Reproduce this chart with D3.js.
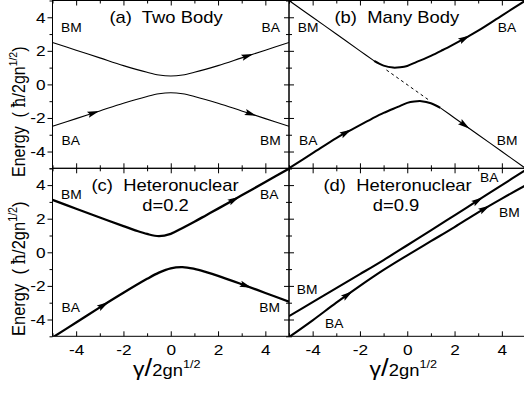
<!DOCTYPE html>
<html><head><meta charset="utf-8">
<script src="https://cdn.jsdelivr.net/npm/d3@7"></script>
<style>body{margin:0;background:#fff}svg{display:block}text{font-family:"Liberation Sans",Arial,sans-serif;fill:#000;white-space:pre}</style>
</head><body><svg id="c" width="524" height="394"></svg>
<script>
// ---- data ----
const majorTicks = [-4, -2, 0, 2, 4];
const minorTicks = [-5, -3, -1, 1, 3, 5];
const tickLabels = ["-4", "-2", "0", "2", "4"];

// (a) Two Body
const aG      = [-5, -4, -3, -2, -1, -0.5, 0, 0.5, 1, 2, 3, 4, 5];
const aUpperE = [2.5, 2.04, 1.58, 1.12, 0.72, 0.56, 0.5, 0.56, 0.72, 1.12, 1.58, 2.04, 2.5];
const aLowerE = [-2.5, -2.04, -1.58, -1.12, -0.72, -0.56, -0.5, -0.56, -0.72, -1.12, -1.58, -2.04, -2.5];

// (b) Many Body
const bUpperThinG  = [-5, -4, -3, -2, -1.4];
const bUpperThinE  = [5, 4, 3, 2, 1.4];
const bUpperThickG = [-1.4, -1, -0.6, -0.3, 0, 0.4, 1, 1.5, 2, 2.5, 3, 4, 5];
const bUpperThickE = [1.4, 1.12, 1.0, 1.02, 1.1, 1.34, 1.7, 2.05, 2.42, 2.8, 3.2, 4.1, 5.0];
const bLowerThickG = [-5, -4, -3, -2.5, -2, -1.5, -1, -0.4, 0, 0.3, 0.6, 1, 1.4];
const bLowerThickE = [-5.0, -4.1, -3.2, -2.8, -2.42, -2.05, -1.7, -1.34, -1.1, -1.02, -1.0, -1.12, -1.4];
const bLowerThinG  = [1.4, 2, 3, 4, 5];
const bLowerThinE  = [-1.4, -2, -3, -4, -5];
const bDashG = [-0.88, 0.9];
const bDashE = [0.86, -0.92];

// (c) Heteronuclear d=0.2
const cUpperG = [-5, -4, -3, -2, -1.5, -1, -0.5, 0, 0.5, 1, 1.5, 2, 3, 4, 5];
const cUpperE = [3.12, 2.59, 2.07, 1.56, 1.31, 1.09, 0.96, 1.1, 1.45, 1.82, 2.21, 2.6, 3.39, 4.19, 4.98];
const cLowerG = [-5, -4, -3, -2, -1, -0.5, 0, 0.5, 1, 1.5, 2, 3, 4, 5];
const cLowerE = [-5.07, -4.18, -3.28, -2.41, -1.58, -1.21, -0.95, -0.88, -0.99, -1.18, -1.4, -1.9, -2.42, -2.94];

// (d) Heteronuclear d=0.9
const dG      = [-5, -4, -3, -2, -1, 0, 1, 2, 3, 4, 5];
const dUpperE = [-3.8, -2.97, -2.13, -1.3, -0.46, 0.42, 1.3, 2.2, 3.1, 4.0, 4.9];
const dLowerE = [-5.05, -4.05, -3.0, -2.0, -1.05, -0.18, 0.66, 1.5, 2.38, 3.2, 3.98];

// arrow positions (gamma) per curve
const aArrows = {upper: [3.25], lower: [-3.26, 3.39]};
const bArrows = {upper: [2.43], lowerThick: [-2.58], lowerThin: [2.43]};
const cArrows = {upper: [2.68], lower: [-2.84, 3.18]};
const dArrows = {upper: [2.99], lower: [-2.52, 3.28]};

// ---- layout ----
const svg = d3.select("#c");
const SX = 1.15;
const colX = [[52.5, 289], [289, 525.5]];
const rowY = [[168.3, 0.5], [336.3, 168.3]];

function mk(col, row) {
  const x = d3.scaleLinear().domain([-5, 5]).range(colX[col]);
  const y = d3.scaleLinear().domain([-5, 5]).range(rowY[row]);
  return {x, y, col, row};
}
const P = {a: mk(0, 0), b: mk(1, 0), c: mk(0, 1), d: mk(1, 1)};

const defs = svg.append("defs");
Object.entries(P).forEach(([k, p]) => {
  defs.append("clipPath").attr("id", "clip-" + k).append("rect")
    .attr("x", p.x.range()[0]).attr("y", p.y.range()[1])
    .attr("width", p.x.range()[1] - p.x.range()[0])
    .attr("height", p.y.range()[0] - p.y.range()[1]);
});

function stretchText(sel) {
  sel.each(function () {
    const t = d3.select(this);
    const x = +t.attr("x") || 0, y = +t.attr("y") || 0;
    t.attr("transform", `translate(${x},${y}) scale(${SX},1)`).attr("x", 0).attr("y", 0);
  });
}

// axes
Object.entries(P).forEach(([k, p]) => {
  const g = svg.append("g");
  const [x0, x1] = p.x.range(), [yb, yt] = p.y.range();
  g.append("rect").attr("x", x0).attr("y", yt).attr("width", x1 - x0).attr("height", yb - yt)
    .attr("fill", "none").attr("stroke", "#000").attr("stroke-width", 1);

  const addAxis = (axisFn, scale, tx, ty, size, values, labels, pad) => {
    const ax = axisFn(scale).tickValues(values).tickSize(size).tickPadding(pad || 3)
      .tickFormat(labels ? ((d, i) => labels[i]) : () => "");
    const ag = g.append("g").attr("transform", `translate(${tx},${ty})`).call(ax);
    ag.select(".domain").remove();
    ag.selectAll("line").attr("stroke", "#000").attr("stroke-width", 1);
    return ag;
  };
  const bot = addAxis(d3.axisBottom, p.x, 0, yb, -5, majorTicks, p.row === 1 ? tickLabels : null, 8);
  addAxis(d3.axisBottom, p.x, 0, yb, -3, minorTicks, null);
  addAxis(d3.axisTop, p.x, 0, yt, -5, majorTicks, null);
  addAxis(d3.axisTop, p.x, 0, yt, -3, minorTicks, null);
  if (p.col === 0) {
    const lft = addAxis(d3.axisLeft, p.y, x0, 0, 5, majorTicks, tickLabels, 2);
    addAxis(d3.axisLeft, p.y, x0, 0, 3, minorTicks, null);
    addAxis(d3.axisRight, p.y, x1, 0, -5, majorTicks, null);
    addAxis(d3.axisRight, p.y, x1, 0, -3, minorTicks, null);
    lft.selectAll("text").attr("font-size", 15).attr("font-family", '"Liberation Sans",Arial,sans-serif').attr("fill", "#000");
    stretchText(lft.selectAll("text"));
  } else {
    addAxis(d3.axisLeft, p.y, x0, 0, -5, majorTicks, null);
    addAxis(d3.axisLeft, p.y, x0, 0, -3, minorTicks, null);
  }
  if (p.row === 1) {
    bot.selectAll("text").attr("font-size", 15).attr("font-family", '"Liberation Sans",Arial,sans-serif').attr("fill", "#000");
    stretchText(bot.selectAll("text"));
  }
});

// curves
const line = (p) => d3.line().x(d => p.x(d[0])).y(d => p.y(d[1])).curve(d3.curveCatmullRom.alpha(0.5));
function curve(k, G, E, w, dash) {
  const p = P[k];
  svg.append("path").attr("clip-path", `url(#clip-${k})`)
    .attr("d", line(p)(G.map((g, i) => [g, E[i]])))
    .attr("fill", "none").attr("stroke", "#000").attr("stroke-width", w)
    .attr("stroke-dasharray", dash || null).attr("stroke-linejoin", "round");
}
function arrows(k, G, E, at) {
  const p = P[k];
  const f = d3.scaleLinear().domain(G).range(E);
  at.forEach(g => {
    const px = p.x(g), py = p.y(f(g));
    const qx = p.x(g + 0.1), qy = p.y(f(g + 0.1));
    const ang = Math.atan2(qy - py, qx - px) * 180 / Math.PI;
    svg.append("path").attr("d", "M6,0 L-6,-3.2 L-4,0 L-6,3.2 Z")
      .attr("transform", `translate(${px},${py}) rotate(${ang})`).attr("fill", "#000");
  });
}

curve("a", aG, aUpperE, 1.1); curve("a", aG, aLowerE, 1.1);
arrows("a", aG, aUpperE, aArrows.upper); arrows("a", aG, aLowerE, aArrows.lower);

curve("b", bUpperThinG, bUpperThinE, 1.1);
curve("b", bUpperThickG, bUpperThickE, 2);
curve("b", bLowerThickG, bLowerThickE, 2);
curve("b", bLowerThinG, bLowerThinE, 1.1);
curve("b", bDashG, bDashE, 1, "3,3");
arrows("b", bUpperThickG, bUpperThickE, bArrows.upper);
arrows("b", bLowerThickG, bLowerThickE, bArrows.lowerThick);
arrows("b", bLowerThinG, bLowerThinE, bArrows.lowerThin);

curve("c", cUpperG, cUpperE, 2.3); curve("c", cLowerG, cLowerE, 2.3);
arrows("c", cUpperG, cUpperE, cArrows.upper); arrows("c", cLowerG, cLowerE, cArrows.lower);

curve("d", dG, dUpperE, 2.1); curve("d", dG, dLowerE, 2.1);
arrows("d", dG, dUpperE, dArrows.upper); arrows("d", dG, dLowerE, dArrows.lower);

// text labels
function label(x, y, txt, size, anchor) {
  svg.append("text").attr("transform", `translate(${x},${y}) scale(${SX},1)`)
    .attr("xml:space", "preserve")
    .attr("font-size", size).attr("text-anchor", anchor || "start").text(txt);
}
label(109.5, 23, "(a)  Two Body", 16);
label(334.5, 23, "(b)  Many Body", 16);
label(91.5, 191, "(c)  Heteronuclear", 16);
label(165.5, 211, "d=0.2", 16, "middle");
label(323.5, 191, "(d)  Heteronuclear", 16);
label(396, 211, "d=0.9", 16, "middle");

const state = [
  [61, 31.7, "BM"], [261.5, 31.7, "BA"], [61.5, 145, "BA"], [260, 145, "BM"],
  [297.7, 31.7, "BM"], [497.7, 31.7, "BA"], [299, 145, "BA"], [496.7, 145, "BM"],
  [61, 198.5, "BM"], [260, 199, "BA"], [61.5, 311.7, "BA"], [259.3, 311.7, "BM"],
  [480, 181.7, "BA"], [499, 216.7, "BM"], [296.7, 294, "BM"], [325, 328.3, "BA"]
];
state.forEach(s => label(s[0], s[1], s[2], 12));

// x-axis titles
[0, 1].forEach(col => {
  const cx = (colX[col][0] + colX[col][1]) / 2 - 4;
  const t = svg.append("text").attr("transform", `translate(${cx},376) scale(${SX},1)`)
    .attr("text-anchor", "middle");
  t.append("tspan").attr("font-size", 20).text("γ");
  t.append("tspan").attr("font-size", 24).text("/");
  t.append("tspan").attr("font-size", 16).text("2gn");
  t.append("tspan").attr("font-size", 11).attr("dy", -8).text("1/2");
});

// y-axis titles (rotated)
[[177, 16], [336, 16.5]].forEach(([yb, fs]) => {
  const t = svg.append("text").attr("transform", `translate(25,${yb}) rotate(-90) scale(1,1.12)`)
    .attr("xml:space", "preserve").attr("font-size", fs);
  t.append("tspan").text("Energy  ( ");
  t.append("tspan").attr("font-family", '"DejaVu Serif","Liberation Serif",serif').attr("font-size", fs).text("ħ");
  t.append("tspan").text("/2gn");
  t.append("tspan").attr("font-size", fs * 0.65).attr("dy", -7).text("1/2");
  t.append("tspan").attr("dy", 7).text(")");
});
</script></body></html>
